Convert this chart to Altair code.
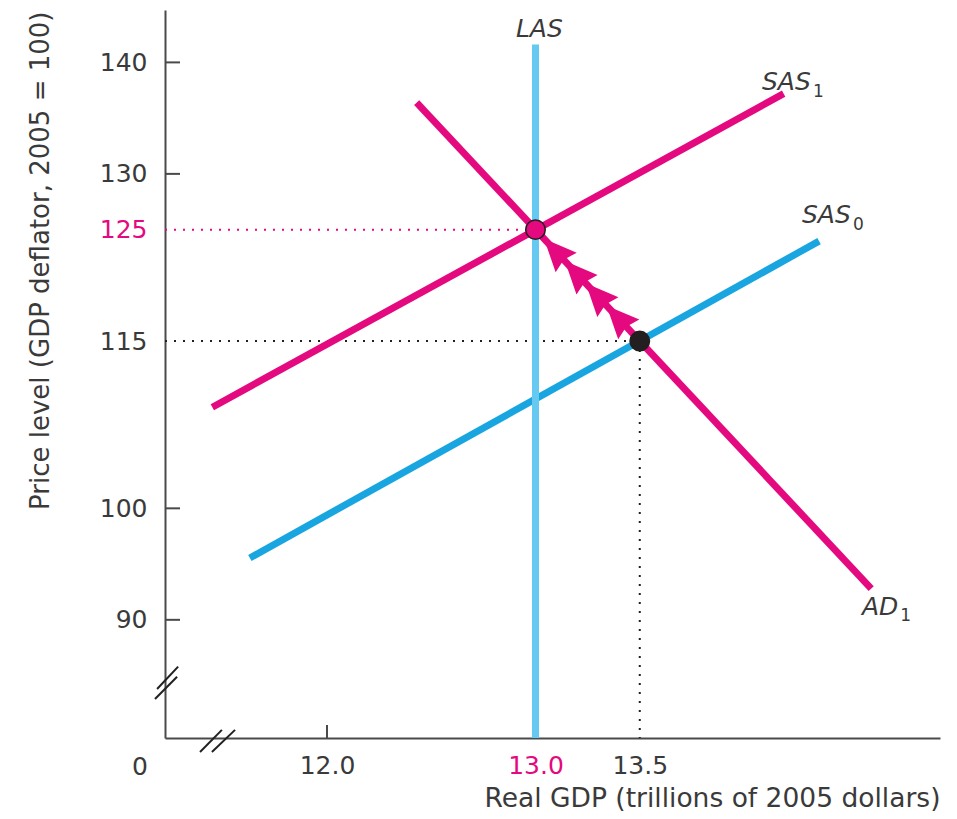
import altair as alt
import pandas as pd

# ---------------- colours / fonts ----------------
MAGENTA = "#e4097f"
BLUE = "#19a6e0"
LIGHT_BLUE = "#66c9f2"
INK = "#3a3a3a"
DARK = "#231f20"
FONT = "DejaVu Sans"

# ---------------- data ----------------
X_DOMAIN = [11.223, 14.94]
Y_DOMAIN = [79.4, 144.7]
X_TICKS = [12.0, 13.0, 13.5]
Y_TICKS = [90, 100, 115, 125, 130, 140]
X_TICK_MARKS = [12.0]
Y_TICK_MARKS = [90, 100, 130, 140]

LAS_X = [13.0, 13.0]
LAS_Y = [79.4, 141.6]
SAS0_X = [11.63, 14.36]
SAS0_Y = [95.55, 123.97]
SAS1_X = [11.45, 14.19]
SAS1_Y = [109.07, 137.2]
AD1_X = [12.43, 14.61]
AD1_Y = [136.4, 92.8]

EQ_X = [13.5, 13.0]
EQ_Y = [115, 125]
EQ_FILL = [DARK, MAGENTA]

ARROW_X = [13.1, 13.2, 13.3, 13.4]
ARROW_Y = [123, 121, 119, 117]

# dotted guide lines (x, y, x2, y2, colour)
GUIDE_X = [11.223, 11.223, 13.5]
GUIDE_X2 = [13.0, 13.5, 13.5]
GUIDE_Y = [125, 115, 115]
GUIDE_Y2 = [125, 115, 79.4]
GUIDE_COLOR = [MAGENTA, DARK, DARK]

# axis-break strokes
BREAK_X = [11.175, 11.185, 11.391, 11.448]
BREAK_X2 = [11.281, 11.286, 11.496, 11.559]
BREAK_Y = [82.9, 83.8, 78.15, 78.15]
BREAK_Y2 = [84.9, 85.8, 80.13, 80.13]

# curve labels
LABEL_TEXT = ["LAS", "SAS", "SAS", "AD"]
LABEL_X = [12.906, 14.086, 14.278, 14.566]
LABEL_Y = [142.28, 137.53, 125.6, 90.44]
SUB_TEXT = ["1", "0", "1"]
SUB_X = [14.331, 14.523, 14.749]
SUB_Y = [136.9, 125.0, 89.9]

ZERO_X = [11.103]
ZERO_Y = [76.09]

# ---------------- scales / axes ----------------
XS = alt.Scale(domain=X_DOMAIN, nice=False, zero=False)
YS = alt.Scale(domain=Y_DOMAIN, nice=False, zero=False)

XAXIS = alt.Axis(
    values=X_TICKS, format=".1f", ticks=False, grid=False,
    domainColor="#4a4a4a", domainWidth=2,
    labelFont=FONT, labelFontSize=25,
    labelColor={"expr": f"datum.value == 13 ? '{MAGENTA}' : '{INK}'"},
    labelPadding=15, labelFlush=False, labelOverlap=False,
    title="Real GDP (trillions of 2005 dollars)",
    titleFont=FONT, titleFontSize=26.5, titleFontWeight="normal", titleColor=INK,
    titleX=775, titleY=68, titleAlign="right", titleBaseline="alphabetic",
)
YAXIS = alt.Axis(
    values=Y_TICKS, format="d", ticks=False, grid=False,
    domainColor="#4a4a4a", domainWidth=2,
    labelFont=FONT, labelFontSize=25,
    labelColor={"expr": f"datum.value == 125 ? '{MAGENTA}' : '{INK}'"},
    labelPadding=18, labelFlush=False, labelOverlap=False,
    title="Price level (GDP deflator, 2005 = 100)",
    titleFont=FONT, titleFontSize=26, titleFontWeight="normal", titleColor=INK,
    titleAngle=270, titleX=-125, titleY=1, titleAlign="right", titleBaseline="middle",
)


def X(field="x"):
    return alt.X(field, type="quantitative", scale=XS, axis=XAXIS)


def Y(field="y"):
    return alt.Y(field, type="quantitative", scale=YS, axis=YAXIS)


def line(xs, ys, color, width=7):
    df = pd.DataFrame({"x": xs, "y": ys})
    return alt.Chart(df).mark_line(color=color, strokeWidth=width, strokeCap="butt").encode(
        x=X(), y=Y()
    )


guides = alt.Chart(pd.DataFrame({
    "x": GUIDE_X, "x2": GUIDE_X2, "y": GUIDE_Y, "y2": GUIDE_Y2, "c": GUIDE_COLOR
})).mark_rule(strokeWidth=2, strokeDash=[2, 7], strokeCap="butt").encode(
    x=X(), x2="x2", y=Y(), y2="y2", color=alt.Color("c:N", scale=None)
)

ytick = alt.Chart(pd.DataFrame({"y": Y_TICK_MARKS})).mark_rule(
    color="#4a4a4a", strokeWidth=2
).encode(y=Y(), x=alt.value(0), x2=alt.value(15))

xtick = alt.Chart(pd.DataFrame({"x": X_TICK_MARKS})).mark_rule(
    color="#4a4a4a", strokeWidth=2
).encode(x=X(), y=alt.value(728), y2=alt.value(715))

breaks = alt.Chart(pd.DataFrame({
    "x": BREAK_X, "x2": BREAK_X2, "y": BREAK_Y, "y2": BREAK_Y2
})).mark_rule(color=DARK, strokeWidth=2).encode(x=X(), x2="x2", y=Y(), y2="y2")

sas0 = line(SAS0_X, SAS0_Y, BLUE)
las = line(LAS_X, LAS_Y, LIGHT_BLUE)
sas1 = line(SAS1_X, SAS1_Y, MAGENTA)
ad1 = line(AD1_X, AD1_Y, MAGENTA)

ARROW_PATH = "M0,-1 L0.8,0.8 L0,0.6 L-0.8,0.8 Z"
arrows = alt.Chart(pd.DataFrame({"x": ARROW_X, "y": ARROW_Y})).mark_point(
    shape=ARROW_PATH, filled=True, color=MAGENTA, size=1300, angle=317, opacity=1
).encode(x=X(), y=Y())

points = alt.Chart(pd.DataFrame({"x": EQ_X, "y": EQ_Y, "f": EQ_FILL})).mark_point(
    shape="circle", filled=True, size=380, stroke=DARK, strokeWidth=1.5, opacity=1
).encode(x=X(), y=Y(), fill=alt.Fill("f:N", scale=None))

labels = alt.Chart(pd.DataFrame({"x": LABEL_X, "y": LABEL_Y, "t": LABEL_TEXT})).mark_text(
    font=FONT, fontSize=25, fontStyle="italic", color=INK, align="left", baseline="alphabetic"
).encode(x=X(), y=Y(), text="t:N")

subs = alt.Chart(pd.DataFrame({"x": SUB_X, "y": SUB_Y, "t": SUB_TEXT})).mark_text(
    font=FONT, fontSize=17, color=INK, align="left", baseline="alphabetic"
).encode(x=X(), y=Y(), text="t:N")

zero = alt.Chart(pd.DataFrame({"x": ZERO_X, "y": ZERO_Y, "t": ["0"]})).mark_text(
    font=FONT, fontSize=25, color=INK, align="center", baseline="alphabetic"
).encode(x=X(), y=Y(), text="t:N")

chart = alt.layer(
    guides, ytick, xtick, breaks, sas0, las, sas1, ad1, arrows, points, labels, subs, zero
).properties(
    width=775, height=728,
    autosize=alt.AutoSizeParams(type="none"),
    padding={"left": 157, "top": 2, "right": 5, "bottom": 75},
).configure_view(stroke=None)

chart.save("out.html", embed_options={"renderer": "svg", "actions": False})
